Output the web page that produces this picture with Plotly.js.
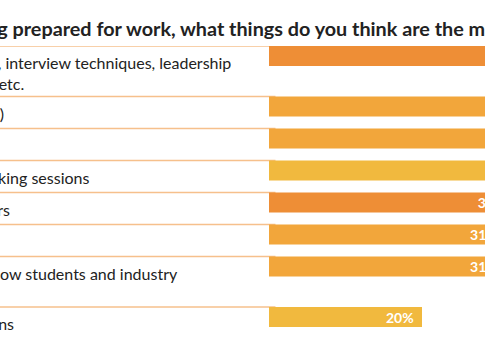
<!DOCTYPE html>
<html><head><meta charset="utf-8">
<script src="https://cdn.plot.ly/plotly-3.0.1.min.js"></script>
<style>html,body{margin:0;padding:0;background:#fff;overflow:hidden}</style>
</head><body>
<div id="chart" style="width:485px;height:360px"></div>
<script>
// ---- data ----
const titleText = "When it comes to being prepared for work, what things do you think are the most useful?";
const categories = [
  "Skills training (e.g. CV writing, interview techniques, leadership<br>skills, teamwork, negotiation etc.",
  "Work experience (internships)",
  "Careers fairs",
  "Alumni and employer networking sessions",
  "Guest lectures from employers",
  "Careers advice",
  "Networking sessions with fellow students and industry<br>professionals",
  "Advice on CVs and applications"
];
const values = [45, 40, 37, 34, 32, 31, 31, 20];
const barColors = ["#EE8E36", "#F2A63B", "#F2A63B", "#F1B93E", "#EE8E36", "#F2A63B", "#F2A63B", "#F1B93E"];

// ---- layout helpers (pixel-like units on the y axis) ----
const ROW_BASE = 32, ROW_EXTRA_LINE = 18.5, BAR_H = 20;
const PX_PER_PCT = 7.65, LEFT = 269, TOP = 46, W = 485, H = 360;
const LABEL_LEFT = -205, TITLE_LEFT = -201.5;

const rowTops = [];
let acc = 0;
categories.forEach(c => { rowTops.push(acc); acc += ROW_BASE + ROW_EXTRA_LINE * (c.split("<br>").length - 1); });
const total = acc;
const barY = rowTops.map(t => t + BAR_H / 2);

const trace = {
  type: "bar", orientation: "h",
  x: values, y: barY, width: categories.map(() => BAR_H),
  marker: { color: barColors, line: { width: 0 } },
  texttemplate: "<b>%{x}%</b>\u00A0\u2009", textposition: "inside", insidetextanchor: "end",
  textangle: 0, constraintext: "none", cliponaxis: true,
  insidetextfont: { family: "Lato", size: 14, color: "#fff" },
  hoverinfo: "skip"
};

const shapes = rowTops.map(t => ({
  type: "line", layer: "below", xref: "paper", yref: "y",
  x0: -2, x1: 0.03, y0: t, y1: t,
  line: { color: "#F6C08C", width: 1.5 }
}));

const annotations = [];
annotations.push({
  text: "<b>" + titleText + "</b>", showarrow: false,
  xref: "paper", yref: "paper", x: 0, y: 1, xanchor: "left", yanchor: "middle",
  xshift: -LEFT + TITLE_LEFT, yshift: 18, borderpad: 0, borderwidth: 0,
  font: { family: "Lato", size: 19.8, color: "#222" }
});
categories.forEach((c, i) => {
  annotations.push({
    text: c, showarrow: false, align: "left",
    xref: "paper", yref: "y", x: 0, y: rowTops[i], xanchor: "left", yanchor: "top",
    xshift: -LEFT + LABEL_LEFT, yshift: -7, borderpad: 0, borderwidth: 0,
    font: { family: "Lato", size: 16, color: "#222" }
  });
});

const layout = {
  width: W, height: H,
  margin: { l: LEFT, r: 0, t: TOP, b: H - TOP - total, pad: 0 },
  paper_bgcolor: "#fff", plot_bgcolor: "#fff",
  showlegend: false,
  xaxis: { range: [0, (W - LEFT) / PX_PER_PCT], visible: false, fixedrange: true },
  yaxis: { range: [total, 0], visible: false, fixedrange: true },
  shapes: shapes, annotations: annotations
};
Plotly.newPlot("chart", [trace], layout, { staticPlot: true, displayModeBar: false });
</script>
</body></html>
